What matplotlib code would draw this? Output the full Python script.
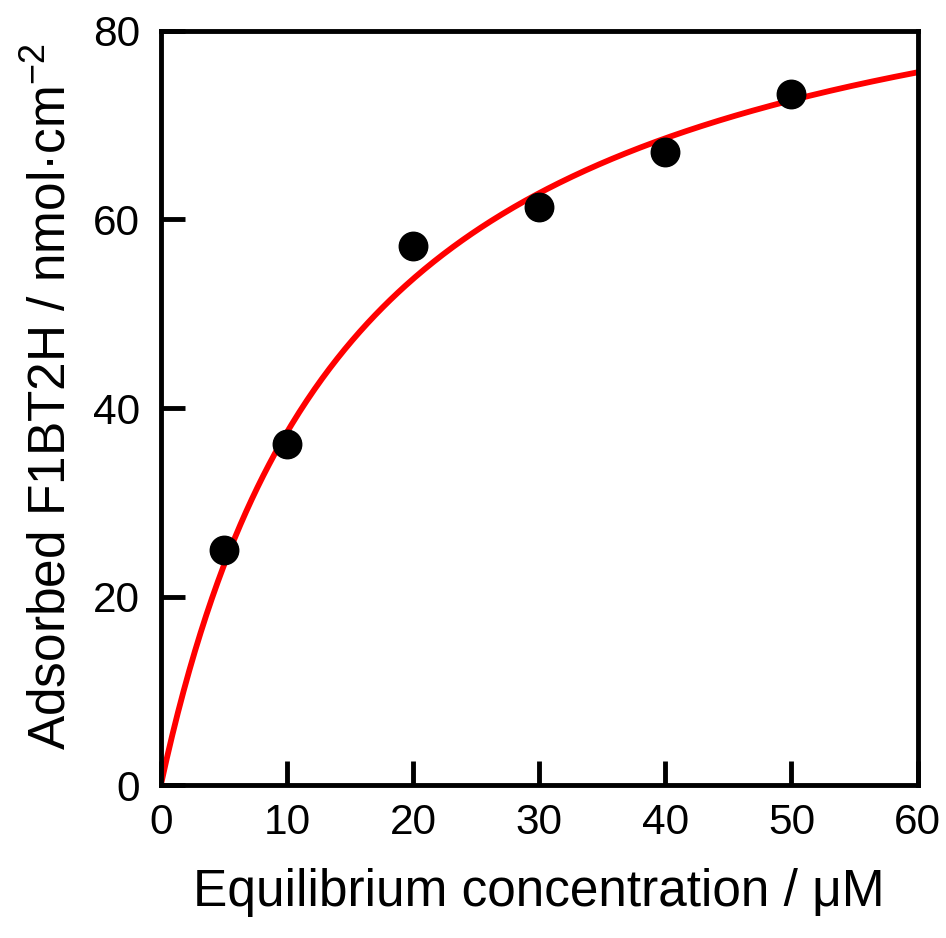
import numpy as np
import matplotlib
matplotlib.use('Agg')
import matplotlib.pyplot as plt

plt.rcParams['font.family'] = ['Liberation Sans', 'DejaVu Sans']
plt.rcParams['mathtext.fontset'] = 'custom'
plt.rcParams['mathtext.rm'] = 'Liberation Sans'

# measured adsorption points
conc = [5, 10, 20, 30, 40, 50]
adsorbed = [24.9, 36.2, 57.2, 61.3, 67.2, 73.3]

# Langmuir fit parameters
q_max = 95.0
k_lang = 0.065

x_ticks = [0, 10, 20, 30, 40, 50, 60]
y_ticks = [0, 20, 40, 60, 80]

fig = plt.figure(figsize=(9.46, 9.38), dpi=100)
ax = fig.add_axes([0.170, 0.163, 0.800, 0.804])

x_fit = np.linspace(0, 60, 400)
y_fit = q_max * k_lang * x_fit / (1 + k_lang * x_fit)
ax.plot(x_fit, y_fit, color='#ff0000', lw=4.2, zorder=2)
ax.plot(conc, adsorbed, 'o', color='black', markersize=20.5, zorder=3)

ax.set_xlim(0, 60)
ax.set_ylim(0, 80)
ax.set_xticks(x_ticks)
ax.set_yticks(y_ticks)

for s in ax.spines.values():
    s.set_linewidth(3.5)
ax.tick_params(direction='in', length=17, width=3.5, labelsize=30.5,
               top=False, right=False)
ax.tick_params(axis='x', pad=13)
ax.tick_params(axis='y', pad=15)

ax.set_xlabel('Equilibrium concentration / \u03bcM', fontsize=37, labelpad=18)
ax.set_ylabel('Adsorbed F1BT2H / nmol\u00b7cm$^{-2}$', fontsize=37, labelpad=12)
# nudge the y label up a little
ax.yaxis.label.set_y(0.515)

fig.savefig('out.png', dpi=100)
plt.close()
